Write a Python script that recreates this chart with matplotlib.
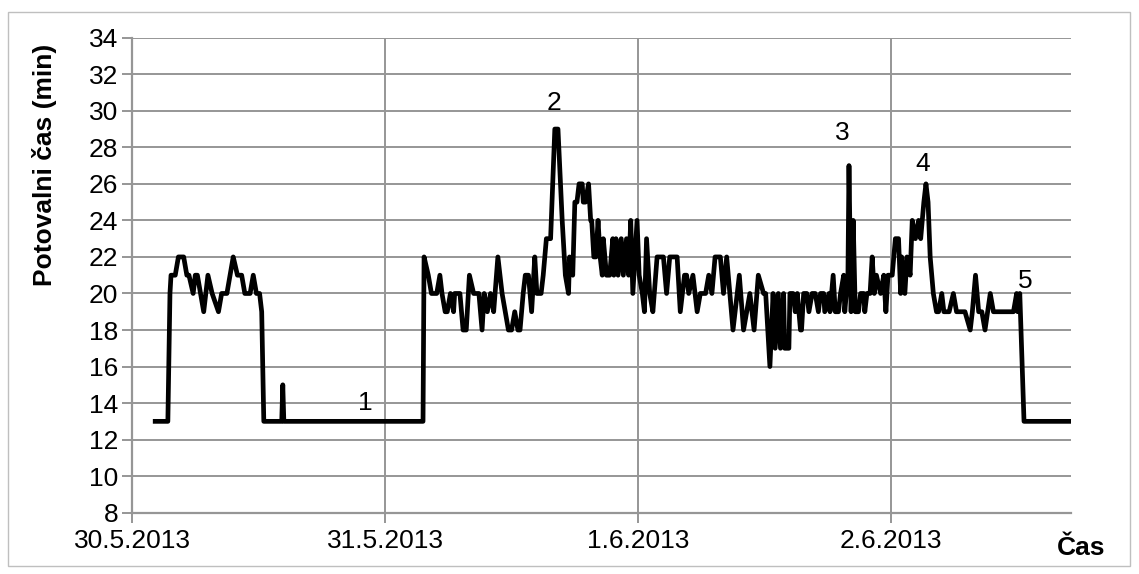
import matplotlib
matplotlib.use("Agg")
import matplotlib.pyplot as plt
from matplotlib.patches import Rectangle

plt.rcParams['font.family'] = ['Liberation Sans', 'DejaVu Sans']

# time in hours since 30.5.2013 00:00, travel time in minutes
hours = [2.2, 3.4, 3.6, 3.7, 4.1, 4.4, 4.9, 5.2, 5.4, 5.8, 6.0, 6.2, 6.8, 7.2, 7.6,
         8.2, 8.5, 9.0, 9.6, 10.0, 10.4, 10.7, 11.2, 11.5, 11.8, 12.1, 12.3, 12.5,
         14.2, 14.3, 14.4, 27.6, 27.7,
         28.1, 28.4, 28.9, 29.2, 29.4, 29.7, 29.9, 30.2, 30.5, 30.6, 31.1, 31.4, 31.7,
         32.0, 32.4, 32.9, 33.2, 33.4, 33.7, 34.0, 34.3, 34.7, 35.1, 35.4, 35.7, 36.0,
         36.3, 36.6, 36.8, 37.1, 37.3, 37.6, 37.9, 38.2, 38.4, 38.8, 39.0, 39.3, 39.7,
         40.1, 40.4, 40.8, 41.1, 41.4, 41.5, 41.8, 42.0, 42.2, 42.4, 42.7, 42.8, 43.0,
         43.3, 43.5, 43.6, 43.8, 44.0, 44.2, 44.4, 44.6, 44.7, 45.0, 45.3, 45.6, 45.7,
         45.9, 46.1, 46.4, 46.6, 46.9, 47.1, 47.3, 47.5, 47.6, 47.9, 48.1, 48.4, 48.6,
         48.8, 49.1, 49.4, 49.8, 50.4, 50.7, 51.0, 51.7, 52.0, 52.4, 52.6, 52.8, 53.2,
         53.6, 53.9, 54.4, 54.7, 55.0, 55.3, 55.8, 56.1, 56.4, 56.7, 57.0, 57.6, 58.0,
         58.6, 59.0, 59.4, 59.9, 60.1, 60.5, 60.8, 61.0, 61.3, 61.5, 61.8, 61.9, 62.3,
         62.4, 62.7, 62.9, 63.1, 63.4, 63.5, 63.7, 64.0, 64.2, 64.5, 64.8, 65.1, 65.3,
         65.6, 65.7, 66.1, 66.2, 66.5, 66.7, 67.0, 67.2, 67.5, 67.6, 67.9, 68.0, 68.2,
         68.4, 68.6, 68.9, 69.1, 69.4, 69.5, 69.7, 70.0, 70.2, 70.4, 70.6, 71.0, 71.3,
         71.5, 71.7, 72.1, 72.4, 72.7, 72.9, 73.0, 73.3, 73.5, 73.8, 74.0, 74.3, 74.6,
         74.8, 75.1, 75.3, 75.5, 75.7, 76.0, 76.3, 76.5, 76.8, 77.0, 77.5, 77.9, 78.2,
         78.5, 79.0, 79.5, 79.7, 80.0, 80.3, 80.6, 80.9, 81.4, 81.7, 82.3, 83.6, 83.9,
         84.0, 84.2, 84.6, 89.0]
minutes = [13, 13, 20, 21, 21, 22, 22, 21, 21, 20, 21, 21, 19, 21, 20,
           19, 20, 20, 22, 21, 21, 20, 20, 21, 20, 20, 19, 13,
           13, 15, 13, 13, 22,
           21, 20, 20, 21, 20, 19, 19, 20, 19, 20, 20, 18, 18,
           21, 20, 20, 18, 20, 19, 20, 19, 22, 20, 19, 18, 18,
           19, 18, 18, 20, 21, 21, 19, 22, 20, 20, 21, 23, 23,
           29, 29, 24, 21, 20, 22, 21, 25, 25, 26, 26, 25, 25,
           26, 24, 24, 22, 22, 24, 22, 21, 23, 21, 21, 23, 21,
           23, 21, 23, 21, 23, 21, 24, 20, 21, 24, 21, 20, 19,
           23, 20, 19, 22, 22, 20, 22, 22, 19, 21, 21, 20, 21,
           19, 20, 20, 21, 20, 22, 22, 20, 22, 20, 18, 21, 18,
           20, 18, 21, 20, 20, 16, 20, 17, 20, 17, 20, 17, 17,
           20, 20, 19, 20, 18, 18, 20, 20, 19, 20, 20, 19, 20,
           20, 19, 20, 19, 21, 19, 19, 20, 21, 19, 21, 27, 19,
           24, 19, 19, 20, 20, 19, 20, 20, 22, 20, 21, 20, 21,
           19, 21, 21, 23, 23, 20, 22, 20, 22, 21, 24, 23, 24,
           23, 25, 26, 25, 22, 20, 19, 19, 20, 19, 19, 20, 19,
           19, 19, 18, 19, 21, 19, 19, 18, 20, 19, 19, 19, 20,
           19, 20, 13, 13]

tick_hours = [0, 24, 48, 72]
tick_labels = ["30.5.2013", "31.5.2013", "1.6.2013", "2.6.2013"]
y_ticks = list(range(8, 35, 2))

ann_labels = ["1", "2", "3", "4", "5"]
ann_x = [22.1, 40.0, 67.4, 75.0, 84.7]
ann_y = [14.0, 30.4, 28.8, 27.1, 20.7]

FS = 19

fig = plt.figure(figsize=(11.39, 5.74), dpi=100)
ax = fig.add_axes([0.1159, 0.1068, 0.8248, 0.8275])

grid_c = "#969696"
ax.set_xlim(0, 89.1)
ax.set_ylim(8, 34)
ax.set_yticks(y_ticks)
ax.set_xticks(tick_hours)
ax.set_xticklabels(tick_labels)
ax.grid(True, color=grid_c, linewidth=1.4)
ax.set_axisbelow(True)

for s in ["top", "right"]:
    ax.spines[s].set_visible(False)
for s in ["left", "bottom"]:
    ax.spines[s].set_color(grid_c)
    ax.spines[s].set_linewidth(1.6)

ax.tick_params(axis="both", colors=grid_c, length=7, width=1.4, labelcolor="black",
               labelsize=FS)
ax.tick_params(axis="y", pad=3)
ax.tick_params(axis="x", pad=5)

ax.plot(hours, minutes, color="black", linewidth=3.4, solid_joinstyle="round")

for t, x, y in zip(ann_labels, ann_x, ann_y):
    ax.text(x, y, t, ha="center", va="center", fontsize=FS)

fig.text(45 / 1139, 1 - 165 / 574, "Potovalni čas (min)", rotation=90,
         ha="center", va="center", fontsize=FS, fontweight="bold")
fig.text(1081 / 1139, 1 - 548 / 574, "Čas", ha="center", va="center",
         fontsize=FS, fontweight="bold")

fig.patches.append(Rectangle((8 / 1139, 1 - 566 / 574), 1122 / 1139, 554 / 574,
                             transform=fig.transFigure, fill=False,
                             edgecolor="#bfbfbf", linewidth=1.0))

fig.savefig("out.png", dpi=100)
